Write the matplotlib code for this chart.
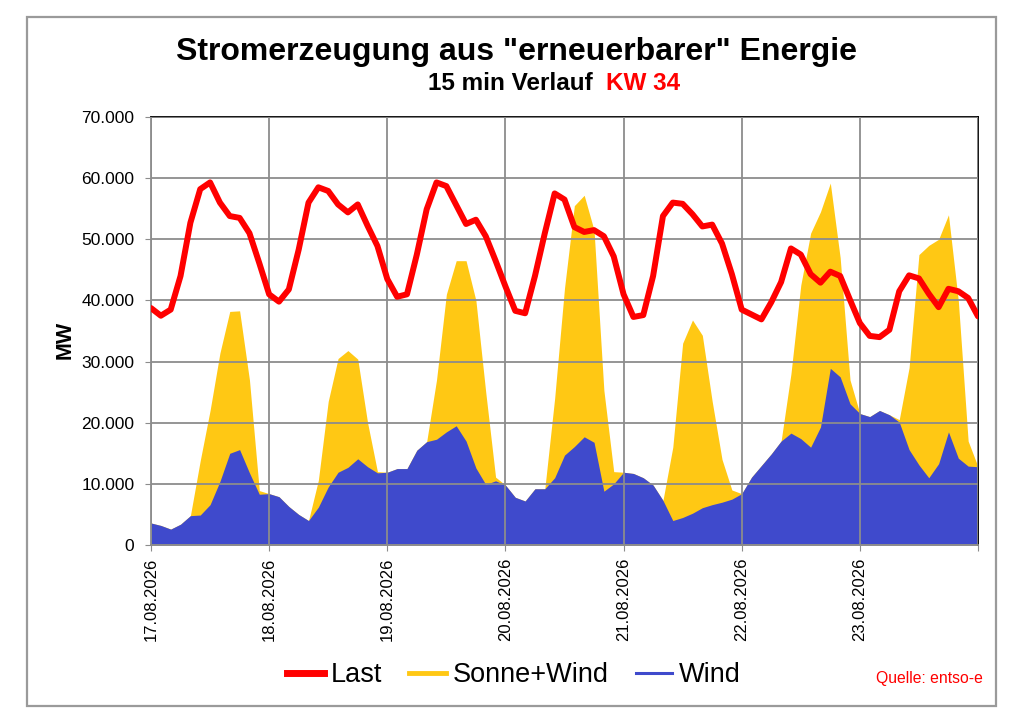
import matplotlib
matplotlib.use("Agg")
import matplotlib.pyplot as plt
from matplotlib.lines import Line2D
from matplotlib.patches import Rectangle
from matplotlib.ticker import FuncFormatter
import numpy as np
import pandas as pd

plt.rcParams['font.family'] = ['Liberation Sans', 'DejaVu Sans']

# Werte alle 2 Stunden (MW), 17.08.2026 00:00 bis 24.08.2026 00:00
last = [38750, 37500, 38500, 44000, 52700, 58200, 59300, 56000, 53800, 53500, 51000, 46100,
        41000, 39800, 41800, 48300, 56000, 58500, 57900, 55700, 54400, 55700, 52200, 48900,
        43500, 40600, 41000, 47500, 54900, 59300, 58700, 55600, 52500, 53200, 50500, 46500,
        42300, 38300, 37900, 44000, 51000, 57500, 56500, 52000, 51200, 51500, 50500, 47200,
        41000, 37300, 37600, 44000, 53800, 56000, 55800, 54100, 52100, 52400, 49300, 44300,
        38500, 37700, 36900, 39700, 43000, 48500, 47500, 44300, 42900, 44700, 44000, 40100,
        36300, 34200, 34000, 35200, 41500, 44100, 43600, 41100, 38900, 41900, 41500, 40400,
        37400]

sonne_wind = [3600, 3200, 2600, 3400, 4800, 13800, 22000, 31400, 38200, 38300, 27000, 8900,
              8400, 7900, 6300, 5000, 4000, 10600, 23500, 30500, 31800, 30400, 20000, 12000,
              11900, 12500, 12500, 15500, 16900, 27000, 41000, 46500, 46500, 40000, 25000, 11100,
              9800, 7800, 7200, 9200, 9200, 24000, 42000, 55500, 57200, 51500, 25300, 12000,
              11900, 11700, 11000, 9800, 7300, 16000, 33000, 36800, 34300, 23500, 14000, 9000,
              8400, 11100, 13000, 14900, 17000, 28000, 42500, 51000, 54500, 59200, 47000, 27000,
              21500, 21000, 22000, 21300, 20500, 29000, 47500, 49000, 50000, 54000, 40000, 17000,
              12800]

wind = [3600, 3200, 2600, 3400, 4800, 4900, 6600, 10400, 15000, 15600, 11800, 8300,
        8400, 7900, 6300, 5000, 4000, 6200, 9500, 11900, 12700, 14100, 12800, 11800,
        11900, 12500, 12500, 15500, 16900, 17300, 18500, 19500, 17000, 12600, 9900, 10500,
        9800, 7800, 7200, 9200, 9200, 11000, 14700, 16100, 17700, 16800, 8800, 10000,
        11900, 11700, 11000, 9800, 7300, 4000, 4500, 5200, 6100, 6600, 7000, 7500,
        8400, 11100, 13000, 14900, 17000, 18300, 17400, 16000, 19300, 28900, 27500, 23100,
        21500, 21000, 22000, 21300, 20100, 15600, 13100, 11000, 13300, 18500, 14200, 12900,
        12800]

zeit = pd.date_range('2026-08-17 00:00', periods=len(last), freq='2h')
tage = pd.date_range('2026-08-17', periods=8, freq='D')
tag_labels = [d.strftime('%d.%m.%Y') for d in tage[:-1]] + ['']

ROT = '#ff0000'
GELB = '#ffc814'
BLAU = '#3f4acc'
GRID = '#8c8c8c'

fig = plt.figure(figsize=(10.24, 7.24), dpi=100)
W, H = 1024, 724

# Rahmen um das ganze Diagramm
fig.patches.append(Rectangle((27 / W, 1 - 706 / H), 969 / W, 689 / H, transform=fig.transFigure,
                             fill=False, edgecolor='#9a9a9a', lw=1.6))

ax = fig.add_axes([151 / W, 1 - 545 / H, 827 / W, 428 / H])
ax.fill_between(zeit, 0, sonne_wind, color=GELB, lw=0, zorder=1)
ax.fill_between(zeit, 0, wind, color=BLAU, lw=0, zorder=1.2)
ax.plot(zeit, last, color=ROT, lw=4.3, zorder=3, solid_capstyle='round')

ax.set_xlim(tage[0], tage[-1])
ax.set_ylim(0, 70000)
ax.set_yticks(range(0, 70001, 10000))
ax.yaxis.set_major_formatter(FuncFormatter(lambda v, p: f"{int(v):,}".replace(',', '.')))
ax.set_xticks(tage)
ax.set_xticklabels(tag_labels, rotation=90, va='top', ha='center')

ax.set_axisbelow(False)
ax.grid(color=GRID, lw=1.3)
for s in ['left', 'bottom']:
    ax.spines[s].set_color(GRID)
    ax.spines[s].set_linewidth(1.3)
for s in ['top', 'right']:
    ax.spines[s].set_color('black')
    ax.spines[s].set_linewidth(1.3)
ax.tick_params(axis='y', length=4, color=GRID, labelsize=12.5, pad=8)
ax.tick_params(axis='x', length=4, color=GRID, labelsize=12, pad=5)

fig.text(65 / W, 1 - 340 / H, 'MW', rotation=90, fontsize=15.5, fontweight='bold', ha='center', va='center')

fig.text(516 / W, 1 - 60 / H, 'Stromerzeugung aus "erneuerbarer" Energie', fontsize=23,
         fontweight='bold', ha='center', va='baseline')
fig.text(428 / W, 1 - 90 / H, '15 min Verlauf', fontsize=17.5, fontweight='bold', ha='left', va='baseline')
fig.text(606 / W, 1 - 90 / H, 'KW 34', fontsize=17.5, fontweight='bold', color=ROT, ha='left', va='baseline')

handles = [Line2D([], [], color=ROT, lw=5),
           Line2D([], [], color=GELB, lw=3.5),
           Line2D([], [], color=BLAU, lw=2.2)]
fig.legend(handles, ['Last', 'Sonne+Wind', 'Wind'], loc='center', bbox_to_anchor=(514 / W, 1 - 675 / H),
           ncol=3, frameon=False, fontsize=19.5, handlelength=1.35, handletextpad=0.25, columnspacing=1.0)

fig.text(983 / W, 1 - 679 / H, 'Quelle: entso-e', color=ROT, fontsize=11.3, ha='right', va='center')

fig.savefig('out.png', dpi=100)
